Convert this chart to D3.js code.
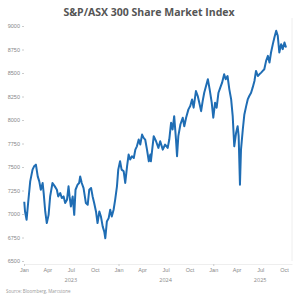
<!DOCTYPE html>
<html>
<head>
<meta charset="utf-8">
<script src="https://cdn.jsdelivr.net/npm/d3@7"></script>
<style>
  body { margin: 0; background: #fff; }
  svg { display: block; font-family: "Open Sans", sans-serif; }
  .tick text { fill: #888; }
</style>
</head>
<body>
<svg id="chart" width="300" height="300"></svg>
<script>
const title = "S&P/ASX 300 Share Market Index"
const source = "Source: Bloomberg, Marcstone"

const dates = [
  "2023-01-02","2023-01-05","2023-01-11","2023-01-17","2023-01-25","2023-02-03","2023-02-09","2023-02-16",
  "2023-02-23","2023-03-01","2023-03-07","2023-03-14","2023-03-18","2023-03-24","2023-03-30","2023-04-06",
  "2023-04-12","2023-04-21","2023-04-30","2023-05-08","2023-05-13","2023-05-21","2023-05-27","2023-06-03",
  "2023-06-09","2023-06-16","2023-06-22","2023-06-26","2023-07-01","2023-07-08","2023-07-14","2023-07-19",
  "2023-07-27","2023-08-02","2023-08-06","2023-08-12","2023-08-19","2023-08-28","2023-09-04","2023-09-10",
  "2023-09-17","2023-09-23","2023-09-29","2023-10-06","2023-10-12","2023-10-19","2023-10-25","2023-11-01",
  "2023-11-07","2023-11-11","2023-11-17","2023-11-24","2023-11-30","2023-12-06","2023-12-13","2023-12-19",
  "2023-12-26","2023-12-31","2024-01-07","2024-01-13","2024-01-21","2024-01-27","2024-02-03","2024-02-09",
  "2024-02-15","2024-02-22","2024-02-29","2024-03-06","2024-03-12","2024-03-19","2024-03-25","2024-04-01",
  "2024-04-07","2024-04-13","2024-04-20","2024-04-27","2024-05-03","2024-05-05","2024-05-16","2024-05-25",
  "2024-06-03","2024-06-10","2024-06-20","2024-06-29","2024-07-09","2024-07-15","2024-07-22","2024-07-28",
  "2024-08-03","2024-08-10","2024-08-14","2024-08-19","2024-08-27","2024-09-05","2024-09-11","2024-09-18",
  "2024-09-27","2024-10-04","2024-10-11","2024-10-17","2024-10-26","2024-11-02","2024-11-08","2024-11-15",
  "2024-11-21","2024-11-27","2024-12-04","2024-12-11","2024-12-18","2024-12-26","2025-01-01","2025-01-08",
  "2025-01-14","2025-01-21","2025-01-28","2025-02-04","2025-02-12","2025-02-18","2025-02-25","2025-03-04",
  "2025-03-11","2025-03-17","2025-03-23","2025-03-30","2025-04-05","2025-04-09","2025-04-14","2025-04-18",
  "2025-04-25","2025-05-01","2025-05-08","2025-05-14","2025-05-20","2025-05-27","2025-06-02","2025-06-09",
  "2025-06-15","2025-06-22","2025-06-28","2025-07-05","2025-07-11","2025-07-17","2025-07-24","2025-07-31",
  "2025-08-06","2025-08-12","2025-08-19","2025-08-25","2025-09-01","2025-09-07","2025-09-13","2025-09-20",
  "2025-09-26","2025-10-03","2025-10-09"
]

const values = [
  7130,7027,6938,7120,7347,7472,7507,7525,
  7400,7347,7258,7330,7223,7027,6903,6991,
  7187,7330,7294,7258,7187,7223,7170,7187,
  7116,7151,7294,7187,7080,7187,6991,7258,
  7312,7330,7400,7330,7276,7116,7098,7258,
  7276,7187,7116,7027,6903,7027,6974,6866,
  6813,6742,6920,6956,7045,6974,7045,7151,
  7294,7472,7561,7472,7454,7330,7507,7632,
  7579,7614,7596,7685,7720,7792,7739,7845,
  7810,7792,7685,7561,7632,7561,7828,7774,
  7703,7774,7685,7739,7703,7792,7970,7899,
  8041,7792,7614,7828,7952,8024,7934,8024,
  8113,8148,8219,8131,8308,8255,8184,8094,
  8201,8290,8361,8433,8326,8184,8024,8184,
  8131,8290,8344,8397,8486,8433,8468,8326,
  8219,8041,7720,7863,7934,7828,7312,7685,
  7899,8059,8148,8219,8255,8290,8344,8415,
  8522,8468,8486,8504,8522,8540,8629,8682,
  8611,8718,8807,8878,8949,8896,8718,8807,
  8754,8825,8771
]

const yTicks = [6500, 6750, 7000, 7250, 7500, 7750, 8000, 8250, 8500, 8750, 9000]
const years = ["2023", "2024", "2025"]

const parse = d3.timeParse("%Y-%m-%d")
const data = dates.map((d, i) => ({date: parse(d), value: values[i]}))

const svg = d3.select("#chart")
const margin = {left: 24, right: 8, top: 26, bottom: 39}
const width = 300, height = 300

const x = d3.scaleTime()
  .domain([new Date(2023, 0, 1), new Date(2025, 10, 1)])
  .range([margin.left, width - margin.right])

const y = d3.scaleLinear()
  .domain([6500, 9000])
  .range([height - margin.bottom, margin.top])

// title
svg.append("text")
  .attr("x", 149)
  .attr("y", 16)
  .attr("text-anchor", "middle")
  .style("font-size", "10.5px")
  .style("font-weight", "bold")
  .style("fill", "#555")
  .text(title)

// right border
svg.append("line")
  .attr("x1", width - margin.right).attr("x2", width - margin.right)
  .attr("y1", margin.top - 8).attr("y2", height - margin.bottom)
  .attr("stroke", "#eee")

// y axis
const yAxis = svg.append("g")
  .attr("transform", `translate(${margin.left},0)`)
  .call(d3.axisLeft(y).tickValues(yTicks).tickFormat(d3.format("d")).tickSize(2).tickPadding(2))
yAxis.select(".domain").remove()
yAxis.selectAll(".tick line").attr("stroke", "#ccc")
yAxis.selectAll("text").style("font-size", "5.5px")

// x axis
const xAxis = svg.append("g")
  .attr("transform", `translate(0,${height - margin.bottom + 3})`)
  .call(d3.axisBottom(x).ticks(d3.timeMonth.every(3)).tickFormat(d3.timeFormat("%b")).tickSize(0).tickPadding(4))
xAxis.select(".domain").attr("stroke", "#eee")
xAxis.selectAll("text").style("font-size", "5.5px")

xAxis.selectAll(".tick")
  .filter(d => d.getMonth() === 0)
  .append("line")
  .attr("y1", 0).attr("y2", 2)
  .attr("stroke", "#ccc")

svg.append("g")
  .selectAll("text")
  .data(years)
  .join("text")
  .attr("x", d => x(new Date(+d, 6, 1)))
  .attr("y", 282)
  .attr("text-anchor", "middle")
  .style("font-size", "5.5px")
  .style("fill", "#888")
  .text(d => d)

// line
const line = d3.line()
  .x(d => x(d.date))
  .y(d => y(d.value))

svg.append("path")
  .datum(data)
  .attr("fill", "none")
  .attr("stroke", "#1f6db4")
  .attr("stroke-width", 2)
  .attr("stroke-linejoin", "round")
  .attr("d", line)

svg.append("text")
  .attr("x", 6)
  .attr("y", 293)
  .style("font-size", "4.5px")
  .style("fill", "#999")
  .text(source)
</script>
</body>
</html>
